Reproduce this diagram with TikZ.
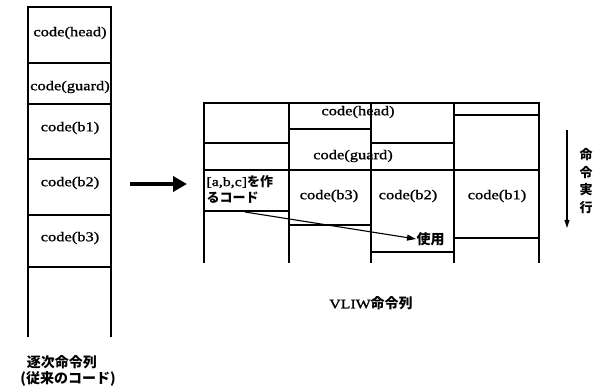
\documentclass[tikz,border=0pt]{standalone}
\usepackage{fontspec}
\setmainfont{Liberation Serif}[FakeStretch=1.22,FakeBold=1.2]
\newfontfamily\jp{Noto Sans CJK JP}
\usetikzlibrary{arrows.meta}
\begin{document}
\begin{tikzpicture}[x=1pt,y=-1pt,line width=1.1pt,
  lbl/.style={font=\fontsize{13.5}{15}\selectfont, inner sep=0pt},
  jlbl/.style={font=\fontsize{14}{17}\selectfont\jp\bfseries, inner sep=0pt, align=center}]
\useasboundingbox (0,0) rectangle (613,390);
% left column (sequential code)
\draw (28,337) -- (28,7) -- (111,7) -- (111,337);
\foreach \yy in {63,104,159,215,267} \draw (28,\yy) -- (111,\yy);
\node[lbl] (lhead) at (70,33) {code(head)};
\node[lbl] (lguard) at (70,87) {code(guard)};
\node[lbl] (lb1) at (70,128) {code(b1)};
\node[lbl] (lb2) at (70,183) {code(b2)};
\node[lbl] (lb3) at (70,238) {code(b3)};
\node[jlbl] (seq1) at (62,362) {逐次命令列};
\node[jlbl] (seq2) at (68,379) {(従来のコード)};
% big arrow
\coordinate (bigA) at (130,184);
\coordinate (bigB) at (187,184);
\draw[line width=4.5pt,-{Triangle[length=14pt,width=15pt]}] (bigA) -- (bigB);
% VLIW grid
\draw (204,263) -- (204,103) -- (539,103) -- (539,263);
\foreach \xx in {289,371,454} \draw (\xx,103) -- (\xx,263);
\draw (204,170) -- (539,170);
\draw (204,143) -- (289,143);
\draw (204,211) -- (289,211);
\draw (289,129) -- (371,129);
\draw (289,225) -- (371,225);
\draw (371,143) -- (454,143);
\draw (371,252) -- (454,252);
\draw (454,115) -- (539,115);
\draw (454,238) -- (539,238);
\node[lbl] (vhead) at (358,112) {code(head)};
\node[lbl] (vguard) at (353,156) {code(guard)};
\node[lbl,anchor=west,align=left,font=\fontsize{13}{16}\selectfont] (abc) at (206,189) {[a,b,c]{\jp\bfseries を作}\\{\jp\bfseries るコード}};
\node[lbl] (vb3) at (329,196) {code(b3)};
\node[lbl] (vb2) at (408,196) {code(b2)};
\node[lbl] (vb1) at (497,196) {code(b1)};
\node[jlbl,anchor=west] (use) at (416,239) {使用};
\coordinate (src) at (245,212);
\draw[-{Triangle[length=9pt,width=6pt]}] (src) -- (use.west);
% execution direction
\coordinate (exA) at (567,130);
\coordinate (exB) at (567,228);
\draw[-{Triangle[length=8pt,width=5pt]}] (exA) -- (exB);
\node[jlbl,font=\fontsize{13}{17.5}\selectfont\jp\bfseries] (exec) at (586,181) {命\\令\\実\\行};
\node[jlbl] (vliw) at (371,303) {{\fontsize{13}{15}\selectfont\rmfamily\mdseries VLIW}命令列};
\end{tikzpicture}
\end{document}
